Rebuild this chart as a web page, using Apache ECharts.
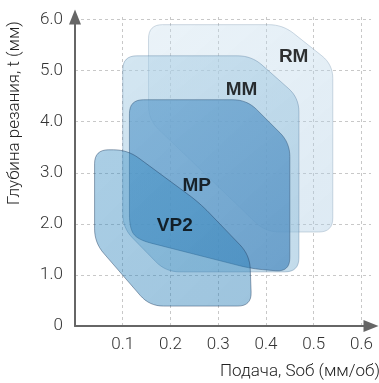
<!DOCTYPE html>
<html>
<head>
<meta charset="utf-8">
<script src="https://cdn.jsdelivr.net/npm/echarts@6/dist/echarts.min.js"></script>
<style>
html, body { margin: 0; padding: 0; background: #fff; }
#chart { width: 379px; height: 383px; }
</style>
</head>
<body>
<div id="chart"></div>
<script>
// tick labels
var xTickLabels = ['0.1', '0.2', '0.3', '0.4', '0.5', '0.6'];
var yTickLabels = ['0', '1.0', '2.0', '3.0', '4.0', '5.0', '6.0'];

// zone outlines: [feed, depth]
var rmOutline = [[0.154, 5.90], [0.435, 5.90], [0.540, 5.12], [0.540, 1.84], [0.399, 1.84], [0.154, 4.04]];
var mmOutline = [[0.100, 5.29], [0.370, 5.29], [0.469, 4.47], [0.469, 1.06], [0.190, 1.06], [0.100, 1.92]];
var mpOutline = [[0.114, 4.43], [0.360, 4.43], [0.450, 3.59], [0.450, 1.06], [0.370, 1.12], [0.131, 1.69], [0.114, 1.92]];
var vp2Outline = [[0.041, 3.45], [0.110, 3.45], [0.261, 2.41], [0.366, 1.39], [0.370, 0.39], [0.156, 0.39], [0.041, 1.63]];

// zone labels
var zoneNames = ['RM', 'MM', 'MP', 'VP2'];
var labelFeed = [0.458, 0.349, 0.255, 0.209];
var labelDepth = [5.27, 4.63, 2.75, 1.96];

var chartDom = document.getElementById('chart');
var myChart = echarts.init(chartDom);
var option;

function roundedPoints(pts, r) {
    var out = [];
    var n = pts.length;
    for (var i = 0; i < n; i++) {
        var p = pts[i], a = pts[(i - 1 + n) % n], b = pts[(i + 1) % n];
        var la = Math.hypot(a[0] - p[0], a[1] - p[1]);
        var lb = Math.hypot(b[0] - p[0], b[1] - p[1]);
        var ka = Math.min(r, la / 2) / la, kb = Math.min(r, lb / 2) / lb;
        var s = [p[0] + (a[0] - p[0]) * ka, p[1] + (a[1] - p[1]) * ka];
        var e = [p[0] + (b[0] - p[0]) * kb, p[1] + (b[1] - p[1]) * kb];
        for (var k = 0; k <= 8; k++) {
            var t = k / 8, u = 1 - t;
            out.push([
                u * u * s[0] + 2 * u * t * p[0] + t * t * e[0],
                u * u * s[1] + 2 * u * t * p[1] + t * t * e[1]
            ]);
        }
    }
    return out;
}

function zoneSeries(outline, c1, c2, edge) {
    return {
        type: 'custom',
        silent: true,
        data: [[0, 0]],
        renderItem: function (params, api) {
            var pts = outline.map(function (d) { return api.coord(d); });
            return {
                type: 'polygon',
                shape: { points: roundedPoints(pts, 14) },
                style: {
                    fill: {
                        type: 'linear', x: 0, y: 0, x2: 1, y2: 1,
                        colorStops: [{ offset: 0, color: c1 }, { offset: 1, color: c2 }]
                    },
                    stroke: edge,
                    lineWidth: 1
                }
            };
        }
    };
}

var labelData = zoneNames.map(function (name, i) {
    return { name: name, value: [labelFeed[i], labelDepth[i]] };
});

var axisFont = { fontFamily: 'Roboto', fontSize: 17, fontWeight: 300, color: '#333' };

option = {
    animation: false,
    grid: { left: 75, top: 17, right: 8, bottom: 57 },
    xAxis: {
        type: 'value',
        min: 0,
        max: 0.62,
        interval: 0.1,
        axisLine: {
            onZero: false,
            lineStyle: { color: '#666', width: 2 },
            symbol: ['none', 'triangle'],
            symbolSize: [12, 15]
        },
        axisTick: { show: false },
        axisLabel: Object.assign({
            margin: 10,
            showMinLabel: false,
            showMaxLabel: false,
            formatter: function (v) { return xTickLabels[Math.round(v * 10) - 1] || ''; }
        }, axisFont),
        splitLine: {
            showMinLine: false,
            showMaxLine: false,
            lineStyle: { color: '#c8c8c8', type: [3, 3], width: 1 }
        }
    },
    yAxis: {
        type: 'value',
        min: 0,
        max: 6.05,
        interval: 1,
        axisLine: {
            lineStyle: { color: '#666', width: 2 },
            symbol: ['none', 'triangle'],
            symbolSize: [12, 15]
        },
        axisTick: { show: false },
        axisLabel: Object.assign({
            margin: 12,
            showMaxLabel: false,
            formatter: function (v) { return yTickLabels[Math.round(v)] || ''; }
        }, axisFont),
        splitLine: {
            showMinLine: false,
            showMaxLine: false,
            lineStyle: { color: '#c8c8c8', type: [3, 3], width: 1 }
        }
    },
    graphic: [
        {
            type: 'text', x: 15, y: 113, rotation: Math.PI / 2,
            style: {
                text: 'Глубина резания, t (мм)', align: 'center', verticalAlign: 'middle',
                font: '300 17px Roboto', fill: '#222'
            }
        },
        {
            type: 'text', x: 300, y: 372,
            style: {
                text: 'Подача, Sоб (мм/об)', align: 'center', verticalAlign: 'middle',
                font: '300 17px Roboto', fill: '#222'
            }
        }
    ],
    series: [
        zoneSeries(rmOutline, 'rgba(196,220,236,0.35)', 'rgba(170,202,226,0.4)', 'rgba(120,150,175,0.35)'),
        zoneSeries(mmOutline, 'rgba(168,205,228,0.5)', 'rgba(145,190,218,0.55)', 'rgba(70,110,145,0.35)'),
        zoneSeries(mpOutline, 'rgba(95,158,205,0.68)', 'rgba(78,140,192,0.74)', 'rgba(40,75,110,0.45)'),
        zoneSeries(vp2Outline, 'rgba(55,140,194,0.42)', 'rgba(42,126,182,0.46)', 'rgba(30,60,95,0.45)'),
        {
            type: 'scatter',
            silent: true,
            symbolSize: 0,
            data: labelData,
            label: {
                show: true,
                position: 'inside',
                formatter: '{b}',
                fontFamily: 'Liberation Sans',
                fontWeight: 'bold',
                fontSize: 19,
                color: '#000'
            }
        }
    ]
};

option && myChart.setOption(option);
</script>
</body>
</html>
